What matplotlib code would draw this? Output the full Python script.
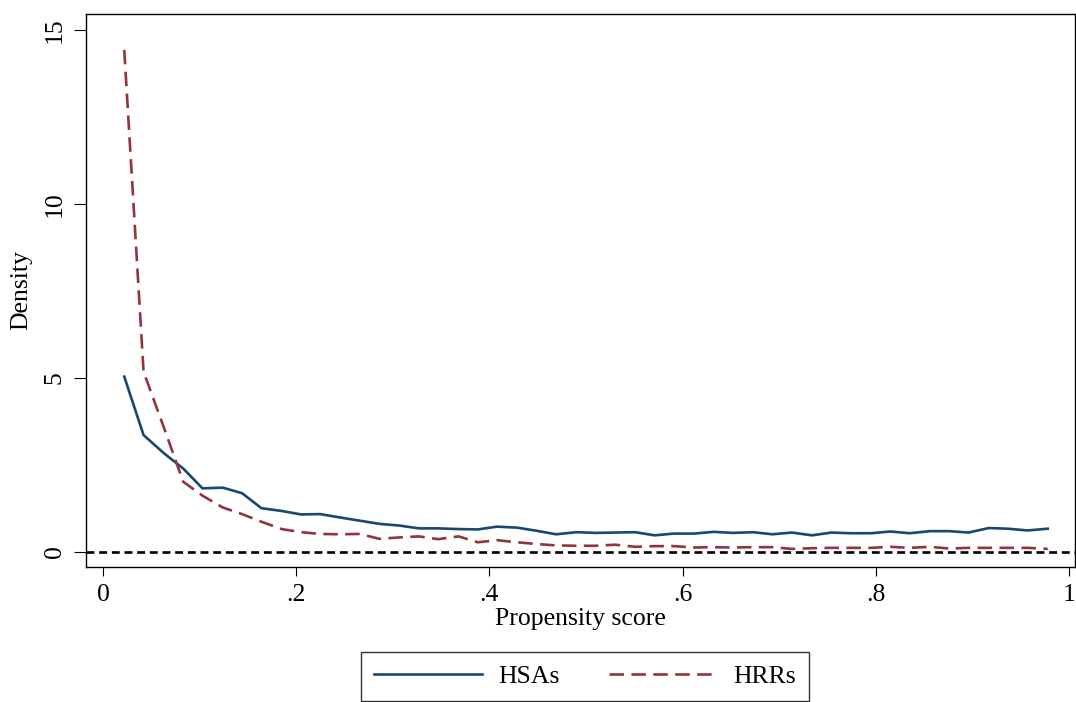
import matplotlib
matplotlib.use("Agg")
import matplotlib.pyplot as plt

plt.rcParams['font.family'] = ['Liberation Serif', 'DejaVu Serif']

# evaluation points of the density estimates
score = [0.022, 0.042, 0.063, 0.083, 0.103, 0.124, 0.144, 0.164, 0.185, 0.205,
         0.225, 0.246, 0.266, 0.286, 0.307, 0.327, 0.347, 0.368, 0.388, 0.408,
         0.429, 0.449, 0.469, 0.490, 0.510, 0.530, 0.551, 0.571, 0.591, 0.612,
         0.632, 0.652, 0.673, 0.693, 0.713, 0.734, 0.754, 0.774, 0.795, 0.815,
         0.835, 0.856, 0.876, 0.896, 0.917, 0.937, 0.957, 0.978]

hsa_density = [5.04, 3.36, 2.84, 2.40, 1.83, 1.85, 1.69, 1.26, 1.18, 1.08,
               1.09, 0.99, 0.90, 0.81, 0.76, 0.68, 0.68, 0.66, 0.65, 0.73,
               0.70, 0.61, 0.51, 0.57, 0.55, 0.56, 0.57, 0.48, 0.53, 0.53,
               0.58, 0.55, 0.57, 0.51, 0.56, 0.48, 0.56, 0.54, 0.54, 0.59,
               0.54, 0.60, 0.60, 0.56, 0.69, 0.67, 0.62, 0.67]

hrr_density = [14.43, 5.18, 3.58, 2.02, 1.62, 1.28, 1.09, 0.87, 0.66, 0.57,
               0.52, 0.51, 0.52, 0.38, 0.42, 0.45, 0.37, 0.45, 0.28, 0.34,
               0.28, 0.23, 0.19, 0.18, 0.18, 0.21, 0.15, 0.17, 0.17, 0.13,
               0.14, 0.13, 0.14, 0.14, 0.09, 0.11, 0.12, 0.12, 0.12, 0.15,
               0.12, 0.15, 0.10, 0.12, 0.12, 0.12, 0.12, 0.09]

x_ticks = [0, 0.2, 0.4, 0.6, 0.8, 1]
x_tick_labels = ['0', '.2', '.4', '.6', '.8', '1']
y_ticks = [0, 5, 10, 15]

navy = '#1a476f'
maroon = '#90353b'

fig = plt.figure(figsize=(10.76, 7.02), dpi=100)
ax = fig.add_axes([86 / 1076, 1 - 567 / 702, 989 / 1076, 553 / 702])

ax.plot(score, hsa_density, color=navy, lw=1.9, label='HSAs')
ax.plot(score, hrr_density, color=maroon, lw=1.9, dashes=(5.5, 2.8), label='HRRs')
ax.axhline(0, color='black', lw=1.9, dashes=(3.0, 1.8))

ax.set_xlim(-0.0176, 1.0062)
ax.set_ylim(-0.43, 15.46)
ax.set_xticks(x_ticks)
ax.set_xticklabels(x_tick_labels)
ax.set_yticks(y_ticks)
ax.tick_params(axis='x', direction='out', length=6.5, width=0.8, pad=6, labelsize=18.5)
ax.tick_params(axis='y', direction='out', length=8.5, width=0.8, pad=6, labelsize=18.5)
for lab in ax.get_yticklabels():
    lab.set_rotation(90)
    lab.set_va('center')
for s in ax.spines.values():
    s.set_linewidth(1.0)

ax.set_xlabel('Propensity score', fontsize=18.5, labelpad=1)
ax.set_ylabel('Density', fontsize=18.5, labelpad=8)

leg = fig.legend(loc='center', bbox_to_anchor=(585 / 1076, 1 - 676.5 / 702),
                 ncol=2, fontsize=18.5, frameon=True, fancybox=False,
                 edgecolor='black', handlelength=4.2, handletextpad=0.65,
                 columnspacing=1.9, borderpad=0.5)
leg.get_frame().set_linewidth(1.0)

fig.savefig('out.png', dpi=100)
